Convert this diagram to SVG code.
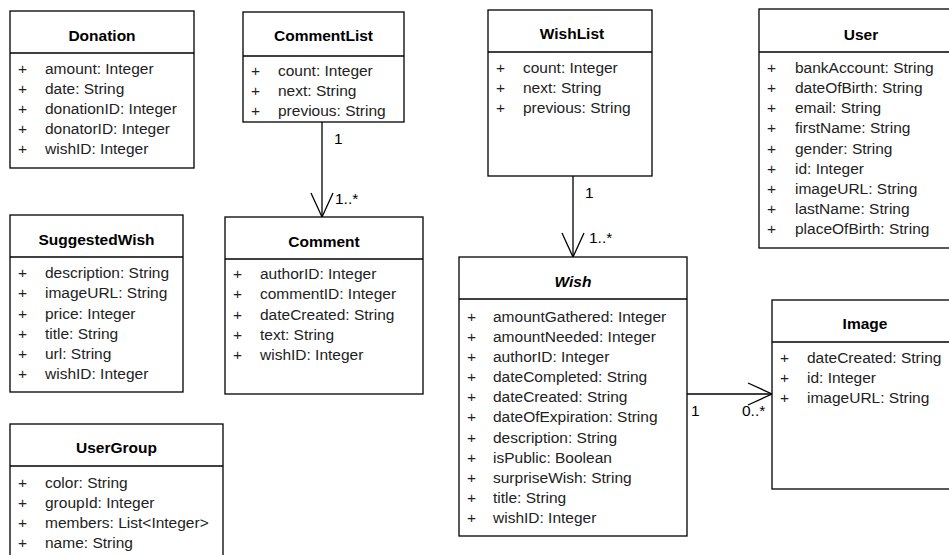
<svg xmlns="http://www.w3.org/2000/svg" width="949" height="555" viewBox="0 0 949 555">
  <style>
    .box { fill: #ffffff; stroke: #000000; stroke-width: 1.3; }
    .sep { stroke: #000000; stroke-width: 1.3; }
    .title { font-family: "Liberation Sans", Arial, sans-serif; font-size: 15.5px; font-weight: bold; fill: #000000; text-anchor: middle; }
    .abstract { font-style: italic; }
    .vis { font-family: "Liberation Sans", Arial, sans-serif; font-size: 15.5px; fill: #222222; text-anchor: middle; }
    .attr { font-family: "Liberation Sans", Arial, sans-serif; font-size: 15.5px; fill: #222222; }
    .edge { fill: none; stroke: #000000; stroke-width: 1.3; }
    .mult { font-family: "Liberation Sans", Arial, sans-serif; font-size: 15.5px; fill: #000000; }
  </style>

  <rect width="949" height="555" fill="#ffffff"/>

  <!-- associations -->
  <g id="connectors">
    <g id="commentlist-comment">
      <line class="edge" x1="322" y1="122" x2="322" y2="217"/>
      <polyline class="edge" points="311,193 322,217 333,193"/>
      <text class="mult" x="334" y="144">1</text>
      <text class="mult" x="335" y="204">1..*</text>
    </g>
    <g id="wishlist-wish">
      <line class="edge" x1="573" y1="176" x2="573" y2="257"/>
      <polyline class="edge" points="562,233 573,257 584,233"/>
      <text class="mult" x="585" y="198">1</text>
      <text class="mult" x="589" y="243">1..*</text>
    </g>
    <g id="wish-image">
      <line class="edge" x1="687" y1="394" x2="772" y2="394"/>
      <polyline class="edge" points="748,383 772,394 748,405"/>
      <text class="mult" x="691" y="416">1</text>
      <text class="mult" x="742" y="416">0..*</text>
    </g>
  </g>

  <!-- Donation -->
  <g id="donation">
    <rect class="box" x="10" y="11" width="184" height="157"/>
    <line class="sep" x1="10" y1="53" x2="194" y2="53"/>
    <text class="title" x="102" y="40.5">Donation</text>
    <text class="vis" x="22.5" y="74">+</text><text class="attr" x="45" y="74">amount: Integer</text>
    <text class="vis" x="22.5" y="94">+</text><text class="attr" x="45" y="94">date: String</text>
    <text class="vis" x="22.5" y="114">+</text><text class="attr" x="45" y="114">donationID: Integer</text>
    <text class="vis" x="22.5" y="134">+</text><text class="attr" x="45" y="134">donatorID: Integer</text>
    <text class="vis" x="22.5" y="154">+</text><text class="attr" x="45" y="154">wishID: Integer</text>
  </g>

  <!-- CommentList -->
  <g id="commentlist">
    <rect class="box" x="243" y="12" width="161" height="110"/>
    <line class="sep" x1="243" y1="56" x2="404" y2="56"/>
    <text class="title" x="323.5" y="41">CommentList</text>
    <text class="vis" x="255.5" y="76">+</text><text class="attr" x="278" y="76">count: Integer</text>
    <text class="vis" x="255.5" y="96">+</text><text class="attr" x="278" y="96">next: String</text>
    <text class="vis" x="255.5" y="116">+</text><text class="attr" x="278" y="116">previous: String</text>
  </g>

  <!-- SuggestedWish -->
  <g id="suggestedwish">
    <rect class="box" x="10" y="215" width="173" height="177"/>
    <line class="sep" x1="10" y1="257" x2="183" y2="257"/>
    <text class="title" x="96.5" y="244.5">SuggestedWish</text>
    <text class="vis" x="22.5" y="278">+</text><text class="attr" x="45" y="278">description: String</text>
    <text class="vis" x="22.5" y="298">+</text><text class="attr" x="45" y="298">imageURL: String</text>
    <text class="vis" x="22.5" y="318.5">+</text><text class="attr" x="45" y="318.5">price: Integer</text>
    <text class="vis" x="22.5" y="339">+</text><text class="attr" x="45" y="339">title: String</text>
    <text class="vis" x="22.5" y="359">+</text><text class="attr" x="45" y="359">url: String</text>
    <text class="vis" x="22.5" y="379">+</text><text class="attr" x="45" y="379">wishID: Integer</text>
  </g>

  <!-- Comment -->
  <g id="comment">
    <rect class="box" x="225" y="217" width="198" height="177"/>
    <line class="sep" x1="225" y1="259" x2="423" y2="259"/>
    <text class="title" x="324" y="246.5">Comment</text>
    <text class="vis" x="237.5" y="279">+</text><text class="attr" x="260" y="279">authorID: Integer</text>
    <text class="vis" x="237.5" y="299">+</text><text class="attr" x="260" y="299">commentID: Integer</text>
    <text class="vis" x="237.5" y="320">+</text><text class="attr" x="260" y="320">dateCreated: String</text>
    <text class="vis" x="237.5" y="340">+</text><text class="attr" x="260" y="340">text: String</text>
    <text class="vis" x="237.5" y="360">+</text><text class="attr" x="260" y="360">wishID: Integer</text>
  </g>

  <!-- UserGroup -->
  <g id="usergroup">
    <rect class="box" x="10" y="424" width="213" height="140"/>
    <line class="sep" x1="10" y1="466" x2="223" y2="466"/>
    <text class="title" x="116.5" y="452.5">UserGroup</text>
    <text class="vis" x="22.5" y="487.5">+</text><text class="attr" x="45" y="487.5">color: String</text>
    <text class="vis" x="22.5" y="507.5">+</text><text class="attr" x="45" y="507.5">groupId: Integer</text>
    <text class="vis" x="22.5" y="528">+</text><text class="attr" x="45" y="528">members: List&lt;Integer&gt;</text>
    <text class="vis" x="22.5" y="548">+</text><text class="attr" x="45" y="548">name: String</text>
  </g>

  <!-- WishList -->
  <g id="wishlist">
    <rect class="box" x="488" y="10" width="164" height="166"/>
    <line class="sep" x1="488" y1="52" x2="652" y2="52"/>
    <text class="title" x="572" y="38.5">WishList</text>
    <text class="vis" x="500.5" y="72.5">+</text><text class="attr" x="523" y="72.5">count: Integer</text>
    <text class="vis" x="500.5" y="92.5">+</text><text class="attr" x="523" y="92.5">next: String</text>
    <text class="vis" x="500.5" y="113">+</text><text class="attr" x="523" y="113">previous: String</text>
  </g>

  <!-- User -->
  <g id="user">
    <rect class="box" x="759" y="9" width="204" height="239"/>
    <line class="sep" x1="759" y1="52" x2="963" y2="52"/>
    <text class="title" x="861" y="40">User</text>
    <text class="vis" x="771.5" y="72.5">+</text><text class="attr" x="795" y="72.5">bankAccount: String</text>
    <text class="vis" x="771.5" y="92.5">+</text><text class="attr" x="795" y="92.5">dateOfBirth: String</text>
    <text class="vis" x="771.5" y="113">+</text><text class="attr" x="795" y="113">email: String</text>
    <text class="vis" x="771.5" y="133">+</text><text class="attr" x="795" y="133">firstName: String</text>
    <text class="vis" x="771.5" y="153.5">+</text><text class="attr" x="795" y="153.5">gender: String</text>
    <text class="vis" x="771.5" y="173.5">+</text><text class="attr" x="795" y="173.5">id: Integer</text>
    <text class="vis" x="771.5" y="193.5">+</text><text class="attr" x="795" y="193.5">imageURL: String</text>
    <text class="vis" x="771.5" y="214">+</text><text class="attr" x="795" y="214">lastName: String</text>
    <text class="vis" x="771.5" y="234">+</text><text class="attr" x="795" y="234">placeOfBirth: String</text>
  </g>

  <!-- Wish (abstract) -->
  <g id="wish">
    <rect class="box" x="459" y="257" width="228" height="279"/>
    <line class="sep" x1="459" y1="299" x2="687" y2="299"/>
    <text class="title abstract" x="573" y="286.5">Wish</text>
    <text class="vis" x="471.5" y="321.5">+</text><text class="attr" x="493" y="321.5">amountGathered: Integer</text>
    <text class="vis" x="471.5" y="341.5">+</text><text class="attr" x="493" y="341.5">amountNeeded: Integer</text>
    <text class="vis" x="471.5" y="361.5">+</text><text class="attr" x="493" y="361.5">authorID: Integer</text>
    <text class="vis" x="471.5" y="382">+</text><text class="attr" x="493" y="382">dateCompleted: String</text>
    <text class="vis" x="471.5" y="402">+</text><text class="attr" x="493" y="402">dateCreated: String</text>
    <text class="vis" x="471.5" y="422">+</text><text class="attr" x="493" y="422">dateOfExpiration: String</text>
    <text class="vis" x="471.5" y="442.5">+</text><text class="attr" x="493" y="442.5">description: String</text>
    <text class="vis" x="471.5" y="462.5">+</text><text class="attr" x="493" y="462.5">isPublic: Boolean</text>
    <text class="vis" x="471.5" y="483">+</text><text class="attr" x="493" y="483">surpriseWish: String</text>
    <text class="vis" x="471.5" y="503">+</text><text class="attr" x="493" y="503">title: String</text>
    <text class="vis" x="471.5" y="523">+</text><text class="attr" x="493" y="523">wishID: Integer</text>
  </g>

  <!-- Image -->
  <g id="image">
    <rect class="box" x="772" y="300" width="186" height="189"/>
    <line class="sep" x1="772" y1="342" x2="958" y2="342"/>
    <text class="title" x="865" y="328.5">Image</text>
    <text class="vis" x="784.5" y="362.5">+</text><text class="attr" x="807" y="362.5">dateCreated: String</text>
    <text class="vis" x="784.5" y="382.5">+</text><text class="attr" x="807" y="382.5">id: Integer</text>
    <text class="vis" x="784.5" y="402.5">+</text><text class="attr" x="807" y="402.5">imageURL: String</text>
  </g>
</svg>
